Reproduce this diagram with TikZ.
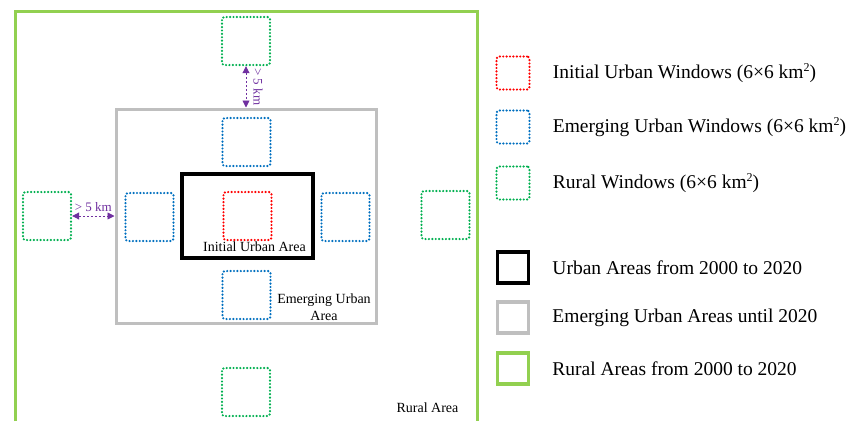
\documentclass[tikz,border=0pt]{standalone}
\usepackage{fontspec}
\setmainfont{Liberation Serif}
\usetikzlibrary{arrows.meta,positioning}
\definecolor{initred}{RGB}{255,0,0}
\definecolor{emergblue}{RGB}{0,112,192}
\definecolor{ruralgreen}{RGB}{0,176,80}
\definecolor{ruralframe}{RGB}{146,208,80}
\definecolor{emerggray}{RGB}{191,191,191}
\definecolor{distpurple}{RGB}{112,48,160}
\tikzset{
  win/.style={draw, line width=2.4pt, dash pattern=on 0pt off 3.4pt, line cap=round,
    rounded corners=2.5pt, minimum size=48pt, inner sep=0pt},
  legwin/.style={win, minimum size=33pt},
  area/.style={draw, inner sep=0pt},
  legtext/.style={inner sep=0pt, anchor=west, font=\fontsize{19.5}{22}\selectfont},
  small/.style={font=\fontsize{14}{17}\selectfont},
  dist/.style={<->, >={Triangle[length=7pt,width=7pt]}, distpurple, line width=0.9pt,
    dash pattern=on 2pt off 2pt}
}
\newcommand{\sqkm}{km\raisebox{0.35em}{\fontsize{12}{12}\selectfont 2}}

\begin{document}
\begin{tikzpicture}[x=1pt, y=-1pt]
    \useasboundingbox (0,0) rectangle (852,421);
    \fill[white] (0,0) rectangle (852,421);

    \draw [ruralframe, line width=3pt] (15,421) |- (477,11) -- (477,421);
    \node [area, emerggray, line width=3pt, minimum width=260pt, minimum height=214pt] (emerg) at (246,216) {};
    \node [area, black, line width=3.5pt, minimum width=131pt, minimum height=84pt] (urban) at (247.5,216) {};

    \node [win, initred] (init) at (247.5,216) {};

    \node [win, emergblue] (etop) at (246.5,142) {};
    \node [win, emergblue] (eleft) at (149.5,217) {};
    \node [win, emergblue] (eright) at (345.5,217) {};
    \node [win, emergblue] (ebottom) at (246.5,295) {};

    \node [win, ruralgreen] (gtop) at (246,41) {};
    \node [win, ruralgreen] (gleft) at (47,216) {};
    \node [win, ruralgreen] (gright) at (445.5,215) {};
    \node [win, ruralgreen] (gbottom) at (246,392) {};

    \draw [dist] (gtop.south) -- (emerg.north)
      node [midway, xshift=12pt, rotate=-90, text=distpurple, font=\fontsize{13}{15}\selectfont] {> 5 km};
    \draw [dist] (gleft.east) -- (emerg.west)
      node [midway, above=1pt, text=distpurple, font=\fontsize{13}{15}\selectfont] {> 5 km};

    \node [small] (urbanlabel) at (254.5,247) {Initial Urban Area};
    \node [small, align=center] (emerglabel) at (324,307.5) {Emerging Urban\\Area};
    \node [small] (rurallabel) at (427.5,408) {Rural Area};

    % legend
    \node [legwin, initred] (leginit) at (513,73) {};
    \node [legwin, emergblue] (legemerg) at (513,127) {};
    \node [legwin, ruralgreen] (legrural) at (513,183) {};
    \node [area, black, line width=3.5pt, minimum size=31pt] (legurban) at (513,267.5) {};
    \node [area, emerggray, line width=3.5pt, minimum size=31pt] (legemergarea) at (513,317.5) {};
    \node [area, ruralframe, line width=3.5pt, minimum size=31pt] (legruralarea) at (513,368.5) {};

    \node [legtext, right=22pt of leginit] {Initial Urban Windows (6×6 \sqkm)};
    \node [legtext, right=22pt of legemerg] {Emerging Urban Windows (6×6 \sqkm)};
    \node [legtext, right=22pt of legrural] {Rural Windows (6×6 \sqkm)};
    \node [legtext, right=22pt of legurban] {Urban Areas from 2000 to 2020};
    \node [legtext, right=22pt of legemergarea] {Emerging Urban Areas until 2020};
    \node [legtext, right=22pt of legruralarea] {Rural Areas from 2000 to 2020};
\end{tikzpicture}
\end{document}
